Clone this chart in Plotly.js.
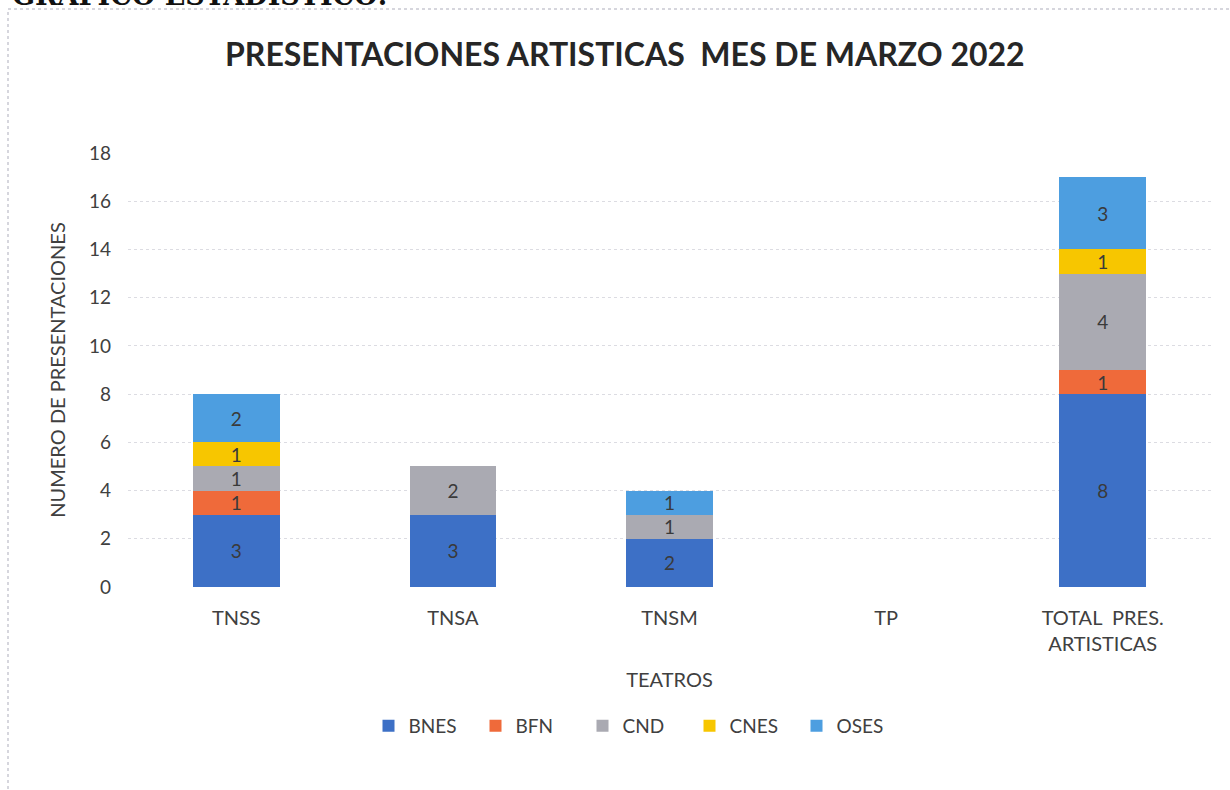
<!DOCTYPE html>
<html>
<head>
<meta charset="utf-8">
<script src="https://cdn.plot.ly/plotly-3.0.1.min.js"></script>
<style>
html,body{margin:0;padding:0;background:#fff;}
#chart{width:1230px;height:790px;}
</style>
</head>
<body>
<div id="chart"></div>
<script>
const categories = ["TNSS", "TNSA", "TNSM", "TP", "TOTAL  PRES.<br>ARTISTICAS"];
const BNES = [3, 3, 2, null, 8];
const BFN  = [1, null, null, null, 1];
const CND  = [1, 2, 1, null, 4];
const CNES = [1, null, null, null, 1];
const OSES = [2, null, 1, null, 3];
const seriesNames = ["BNES", "BFN", "CND", "CNES", "OSES"];
const seriesValues = [BNES, BFN, CND, CNES, OSES];
const seriesColors = ["#3d70c6", "#ef6a3a", "#aaaab2", "#f7c600", "#4d9ee0"];
const yTicks = [0, 2, 4, 6, 8, 10, 12, 14, 16, 18];

const FONT = "Lato, 'Open Sans', sans-serif";

const traces = seriesNames.map((name, i) => ({
  type: "bar",
  name: name,
  x: categories,
  y: seriesValues[i],
  marker: {color: seriesColors[i], line: {width: 0}},
  text: seriesValues[i].map(v => v == null ? "" : String(v)),
  textposition: "inside",
  insidetextanchor: "middle",
  textangle: 0,
  textfont: {family: FONT, size: 19, color: "#3a3a3a"},
  constraintext: "none",
  hoverinfo: "x+y+name"
}));

const L = 128, R = 1211, T = 153, B = 587;
const px = x => (x - L) / (R - L);
const py = y => (B - y) / (B - T);

const layout = {
  width: 1230,
  height: 790,
  margin: {l: L, r: 1230 - R, t: T, b: 790 - B, pad: 0},
  paper_bgcolor: "#ffffff",
  plot_bgcolor: "#ffffff",
  barmode: "stack",
  bargap: 0.6,
  font: {family: FONT, color: "#404040"},
  title: {
    text: "<b>PRESENTACIONES ARTISTICAS  MES DE MARZO 2022</b>",
    font: {family: FONT, size: 32, color: "#262626"},
    x: 0.508, xanchor: "center",
    y: 1 - 55 / 790, yanchor: "middle"
  },
  xaxis: {
    type: "category",
    tickfont: {family: FONT, size: 20, color: "#404040"},
    ticks: "",
    ticklabelstandoff: 17,
    showline: false,
    showgrid: false,
    zeroline: false,
    title: {text: "TEATROS", font: {family: FONT, size: 20, color: "#404040"}, standoff: 18},
    automargin: false
  },
  yaxis: {
    range: [0, 18],
    tickvals: yTicks,
    ticktext: yTicks.map(String),
    tickfont: {family: FONT, size: 19, color: "#404040"},
    ticks: "",
    ticklabelstandoff: 16,
    showgrid: true,
    gridcolor: "#dcdce2",
    gridwidth: 1,
    griddash: "dot",
    zeroline: false,
    showline: false,
    title: {text: "NUMERO DE PRESENTACIONES", font: {family: FONT, size: 20, color: "#404040"}, standoff: 17},
    automargin: false
  },
  showlegend: true,
  legend: {
    orientation: "h",
    x: px(636), xanchor: "center",
    y: py(726), yanchor: "middle",
    font: {family: FONT, size: 19, color: "#404040"},
    itemwidth: 30,
    entrywidth: 62,
    entrywidthmode: "pixels",
    traceorder: "normal"
  },
  shapes: [{
    type: "rect", xref: "paper", yref: "paper",
    x0: px(8), x1: px(1240), y0: py(800), y1: py(9),
    line: {color: "#c9c9d2", width: 1.5, dash: "dot"},
    fillcolor: "rgba(0,0,0,0)", layer: "below"
  }],
  annotations: [{
    text: "<b>GRAFICO ESTADISTICO:</b>",
    xref: "paper", yref: "paper",
    x: px(10), xanchor: "left",
    y: py(13), yanchor: "bottom",
    showarrow: false,
    font: {family: "'DejaVu Serif', serif", size: 27, color: "#111111"}
  }],
  bargroupgap: 0
};

Plotly.newPlot("chart", traces, layout, {displayModeBar: false, staticPlot: true});
</script>
</body>
</html>
